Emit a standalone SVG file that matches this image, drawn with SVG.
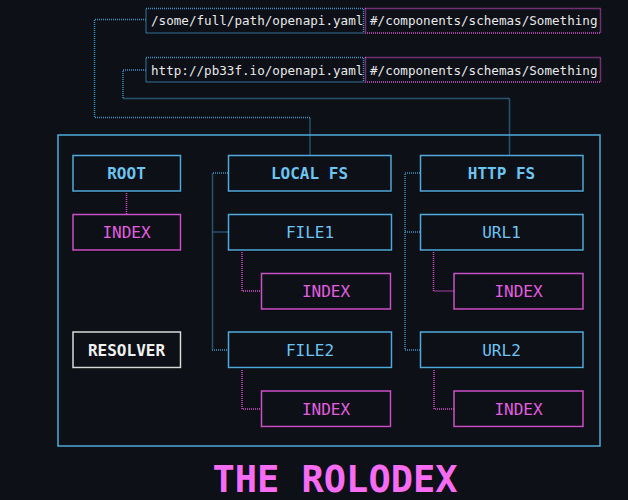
<svg xmlns="http://www.w3.org/2000/svg" width="628" height="500" viewBox="0 0 628 500">
<style>
  .bg{fill:#0d1017}
  .nb{fill:#0d1017;stroke:#4fa9dc;stroke-width:1.5}
  .np{fill:#0d1017;stroke:#cc4fc8;stroke-width:1.5}
  .nw{fill:#0d1017;stroke:#d8d8d8;stroke-width:1.5}
  .sh{fill:#000000}
  .tb{font-family:"DejaVu Sans Mono","Liberation Mono",monospace;font-size:16px;fill:#6cc4f2;text-anchor:middle}
  .tp{font-family:"DejaVu Sans Mono","Liberation Mono",monospace;font-size:16px;fill:#e35ee0;text-anchor:middle}
  .tw{font-family:"DejaVu Sans Mono","Liberation Mono",monospace;font-size:16px;fill:#f0f0f0;text-anchor:middle;font-weight:bold}
  .bold{font-weight:bold}
  .path{font-family:"DejaVu Sans Mono","Liberation Mono",monospace;font-size:12.6px;fill:#e8e8e8}
  .db{fill:none;stroke:#3f93c4;stroke-width:1.5;stroke-dasharray:1 1}
  .dp{fill:none;stroke:#d050cc;stroke-width:1.5;stroke-dasharray:1 1}
  .title{font-family:"DejaVu Sans Mono","Liberation Mono",monospace;font-size:37px;font-weight:bold;fill:#f76cf2;text-anchor:middle}
</style>
<rect class="bg" x="0" y="0" width="628" height="500"/>

<g id="connectors">
  <path class="db" d="M146,19.5 H94.5 V117.5 H310 V155"/>
  <path class="db" d="M146,70 H123 V98.5 H509.5 V155"/>
  <path class="dp" d="M126.5,191 V214"/>
  <path class="db" d="M228,173 H212.5 V350 H228 M212.5,232 H228"/>
  <path class="db" d="M420,173 H405 V350 H420 M405,232 H420"/>
  <path class="dp" d="M242,250 V291 H261"/>
  <path class="dp" d="M242,368 V409 H261"/>
  <path class="dp" d="M433.5,250 V291 H454"/>
  <path class="dp" d="M434,368 V409 H454"/>
</g>

<g id="path1">
  <rect x="146" y="8.5" width="217.5" height="24.5" fill="none" class="db"/>
  <text class="path" x="151" y="25">/some/full/path/openapi.yaml</text>
</g>
<g id="ref1">
  <rect x="365.5" y="8.5" width="235" height="24.5" fill="none" class="dp"/>
  <text class="path" x="370" y="25">#/components/schemas/Something</text>
</g>
<g id="path2">
  <rect x="146" y="57.5" width="217.5" height="24.5" fill="none" class="db"/>
  <text class="path" x="151" y="74.5">http://pb33f.io/openapi.yaml</text>
</g>
<g id="ref2">
  <rect x="365.5" y="57.5" width="235" height="24.5" fill="none" class="dp"/>
  <text class="path" x="370" y="74.5">#/components/schemas/Something</text>
</g>

<g id="rolodex">
  <rect x="58" y="135" width="542" height="311" fill="none" stroke="#4fa9dc" stroke-width="1.5"/>
</g>

<g id="root">
  <rect class="sh" x="74" y="156.5" width="107.5" height="36"/>
  <rect class="nb" x="73" y="155.5" width="107.5" height="35.5"/>
  <text class="tb bold" x="126.5" y="179">ROOT</text>
</g>
<g id="root-index">
  <rect class="sh" x="74" y="215.5" width="107.5" height="36"/>
  <rect class="np" x="73" y="214.5" width="107.5" height="35.5"/>
  <text class="tp" x="126.5" y="238">INDEX</text>
</g>
<g id="resolver">
  <rect class="sh" x="74" y="333" width="107.5" height="36"/>
  <rect class="nw" x="73" y="332" width="107.5" height="35.5"/>
  <text class="tw" x="126.5" y="355.5">RESOLVER</text>
</g>

<g id="local-fs">
  <rect class="sh" x="229.5" y="156.5" width="162.5" height="36"/>
  <rect class="nb" x="228.5" y="155.5" width="162.5" height="35.5"/>
  <text class="tb bold" x="309.5" y="179">LOCAL FS</text>
</g>
<g id="file1">
  <rect class="sh" x="229.5" y="215.5" width="163" height="36"/>
  <rect class="nb" x="228.5" y="214.5" width="163" height="35.5"/>
  <text class="tb" x="310" y="238">FILE1</text>
</g>
<g id="file1-index">
  <rect class="sh" x="262.5" y="274.5" width="129" height="36"/>
  <rect class="np" x="261.5" y="273.5" width="129" height="35.5"/>
  <text class="tp" x="326" y="297">INDEX</text>
</g>
<g id="file2">
  <rect class="sh" x="229.5" y="333" width="163" height="36"/>
  <rect class="nb" x="228.5" y="332" width="163" height="35.5"/>
  <text class="tb" x="310" y="355.5">FILE2</text>
</g>
<g id="file2-index">
  <rect class="sh" x="262.5" y="392" width="129" height="36"/>
  <rect class="np" x="261.5" y="391" width="129" height="35.5"/>
  <text class="tp" x="326" y="414.5">INDEX</text>
</g>

<g id="http-fs">
  <rect class="sh" x="421.5" y="156.5" width="162.5" height="36"/>
  <rect class="nb" x="420.5" y="155.5" width="162.5" height="35.5"/>
  <text class="tb bold" x="501.5" y="179">HTTP FS</text>
</g>
<g id="url1">
  <rect class="sh" x="421.5" y="215.5" width="162.5" height="36"/>
  <rect class="nb" x="420.5" y="214.5" width="162.5" height="35.5"/>
  <text class="tb" x="501.5" y="238">URL1</text>
</g>
<g id="url1-index">
  <rect class="sh" x="455" y="274.5" width="129" height="36"/>
  <rect class="np" x="454" y="273.5" width="129" height="35.5"/>
  <text class="tp" x="518.5" y="297">INDEX</text>
</g>
<g id="url2">
  <rect class="sh" x="421.5" y="333" width="162.5" height="36"/>
  <rect class="nb" x="420.5" y="332" width="162.5" height="35.5"/>
  <text class="tb" x="501.5" y="355.5">URL2</text>
</g>
<g id="url2-index">
  <rect class="sh" x="455" y="392" width="129" height="36"/>
  <rect class="np" x="454" y="391" width="129" height="35.5"/>
  <text class="tp" x="518.5" y="414.5">INDEX</text>
</g>

<text class="title" x="335" y="492">THE ROLODEX</text>
</svg>
